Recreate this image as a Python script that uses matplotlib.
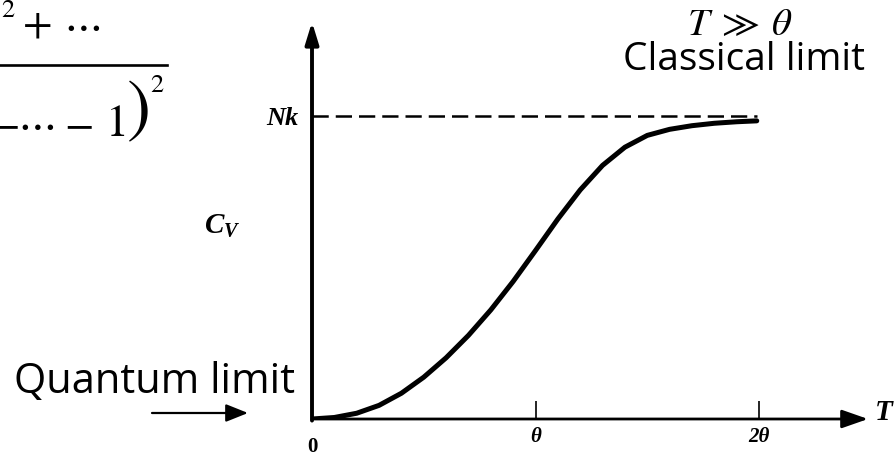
import matplotlib

matplotlib.use("Agg")

import matplotlib.pyplot as plt

# heat capacity curve: T/theta and C_V/Nk
T_RATIO = [0.0, 0.1, 0.2, 0.3, 0.4, 0.5, 0.6, 0.7, 0.8, 0.9, 1.0, 1.1, 1.2,
           1.3, 1.4, 1.5, 1.6, 1.7, 1.8, 1.9, 1.99]
CV_RATIO = [0.0, 0.005, 0.019, 0.045, 0.085, 0.138, 0.202, 0.276, 0.36,
            0.454, 0.556, 0.66, 0.756, 0.837, 0.897, 0.936, 0.956, 0.968,
            0.976, 0.981, 0.984]
CLASSICAL_LEVEL = 1.0
CLASSICAL_END = 1.99
X_TICKS = [1, 2]
X_TICK_LABELS = ["θ", "2θ"]
Y_TICKS = [1]
Y_TICK_LABELS = ["Nk"]

SERIF = "Liberation Serif"
SANS = "Open Sans"

plt.rcParams["mathtext.fontset"] = "custom"
plt.rcParams["mathtext.it"] = "Liberation Serif:bold:italic"
plt.rcParams["mathtext.rm"] = "Liberation Serif:bold"

fig = plt.figure(figsize=(8.96, 4.58), dpi=100)
W, H = 896, 458

# main axes: origin at pixel (312, 419), theta = 223.5 px, Nk = 303 px
x0, y0, xend, ytop = 312, 419, 868, 22
ax = fig.add_axes([x0 / W, (H - y0) / H, (xend - x0) / W, (y0 - ytop) / H])
ax.set_xlim(0, (xend - x0) / 223.5)
ax.set_ylim(0, (y0 - ytop) / 303)
ax.patch.set_alpha(0)
for side in ax.spines.values():
    side.set_visible(False)

ax.annotate("", xy=(1, 0), xytext=(0, 0), xycoords="axes fraction",
            arrowprops=dict(arrowstyle="-|>,head_length=0.8,head_width=0.28",
                            lw=2.0, color="black", shrinkA=0, shrinkB=0,
                            mutation_scale=20))
ax.annotate("", xy=(0, 1), xytext=(0, -0.004), xycoords="axes fraction",
            arrowprops=dict(arrowstyle="-|>,head_length=0.65,head_width=0.2",
                            lw=2.8, color="black", shrinkA=0, shrinkB=0,
                            mutation_scale=20))

ax.plot([0, CLASSICAL_END], [CLASSICAL_LEVEL, CLASSICAL_LEVEL],
        color="black", lw=1.8, dashes=(6.5, 2.8))
ax.plot(T_RATIO, CV_RATIO, color="black", lw=3.6,
        solid_capstyle="round", solid_joinstyle="round")

ax.set_xticks(X_TICKS)
ax.set_xticklabels(X_TICK_LABELS, fontfamily=SERIF, fontstyle="italic",
                   fontweight="bold", fontsize=15)
ax.tick_params(axis="x", direction="in", length=13, width=1.2, pad=6)
ax.set_yticks(Y_TICKS)
ax.set_yticklabels(Y_TICK_LABELS, fontfamily=SERIF, fontstyle="italic",
                   fontweight="bold", fontsize=19)
ax.tick_params(axis="y", length=0, pad=10)

# overlay in pixel coordinates for the slide annotations
ov = fig.add_axes([0, 0, 1, 1])
ov.set_xlim(0, W)
ov.set_ylim(H, 0)
ov.axis("off")
ov.patch.set_alpha(0)

ov.text(312, 447, "0", fontfamily=SERIF, fontweight="bold", fontsize=15,
        ha="center", va="center")
ov.text(884, 413, "T", fontfamily=SERIF, fontstyle="italic", fontweight="bold",
        fontsize=21, ha="center", va="center")
ov.text(222, 226, "$C_V$", fontsize=21, ha="center", va="center")

# cut-off formula at top left
stix = dict(math_fontfamily="stix", color="black", ha="center", va="baseline")
ov.text(8, 17, "$2$", fontsize=19, **stix)
ov.text(37, 37, "$+$", fontsize=31, **stix)
ov.text(82, 37, r"$\cdots$", fontsize=31, **stix)
ov.plot([0, 167], [65, 65], color="black", lw=1.9)
ov.text(4, 136, "$-$", fontsize=31, **stix)
ov.text(36, 136, r"$\cdots$", fontsize=31, **stix)
ov.text(78, 136, "$-$", fontsize=31, **stix)
ov.text(115, 136, "$1$", fontsize=33, **stix)
ov.text(137, 110, "$)$", fontsize=52, math_fontfamily="stix",
        ha="center", va="center")
ov.text(157, 92, "$2$", fontsize=19, **stix)

ov.text(740, 24, r"$T\;\gg\;\theta$", fontsize=28, math_fontfamily="stix",
        ha="center", va="center")
ov.text(744, 70, "Classical limit", fontfamily=SANS, fontsize=28,
        ha="center", va="baseline")
ov.text(155, 393, "Quantum limit", fontfamily=SANS, fontsize=30,
        ha="center", va="baseline")
ov.annotate("", xy=(248, 413), xytext=(152, 413),
            arrowprops=dict(arrowstyle="-|>,head_length=0.75,head_width=0.3",
                            lw=1.6, color="black", shrinkA=0, shrinkB=0,
                            mutation_scale=18))

fig.savefig("out.png", dpi=100, facecolor="white")
